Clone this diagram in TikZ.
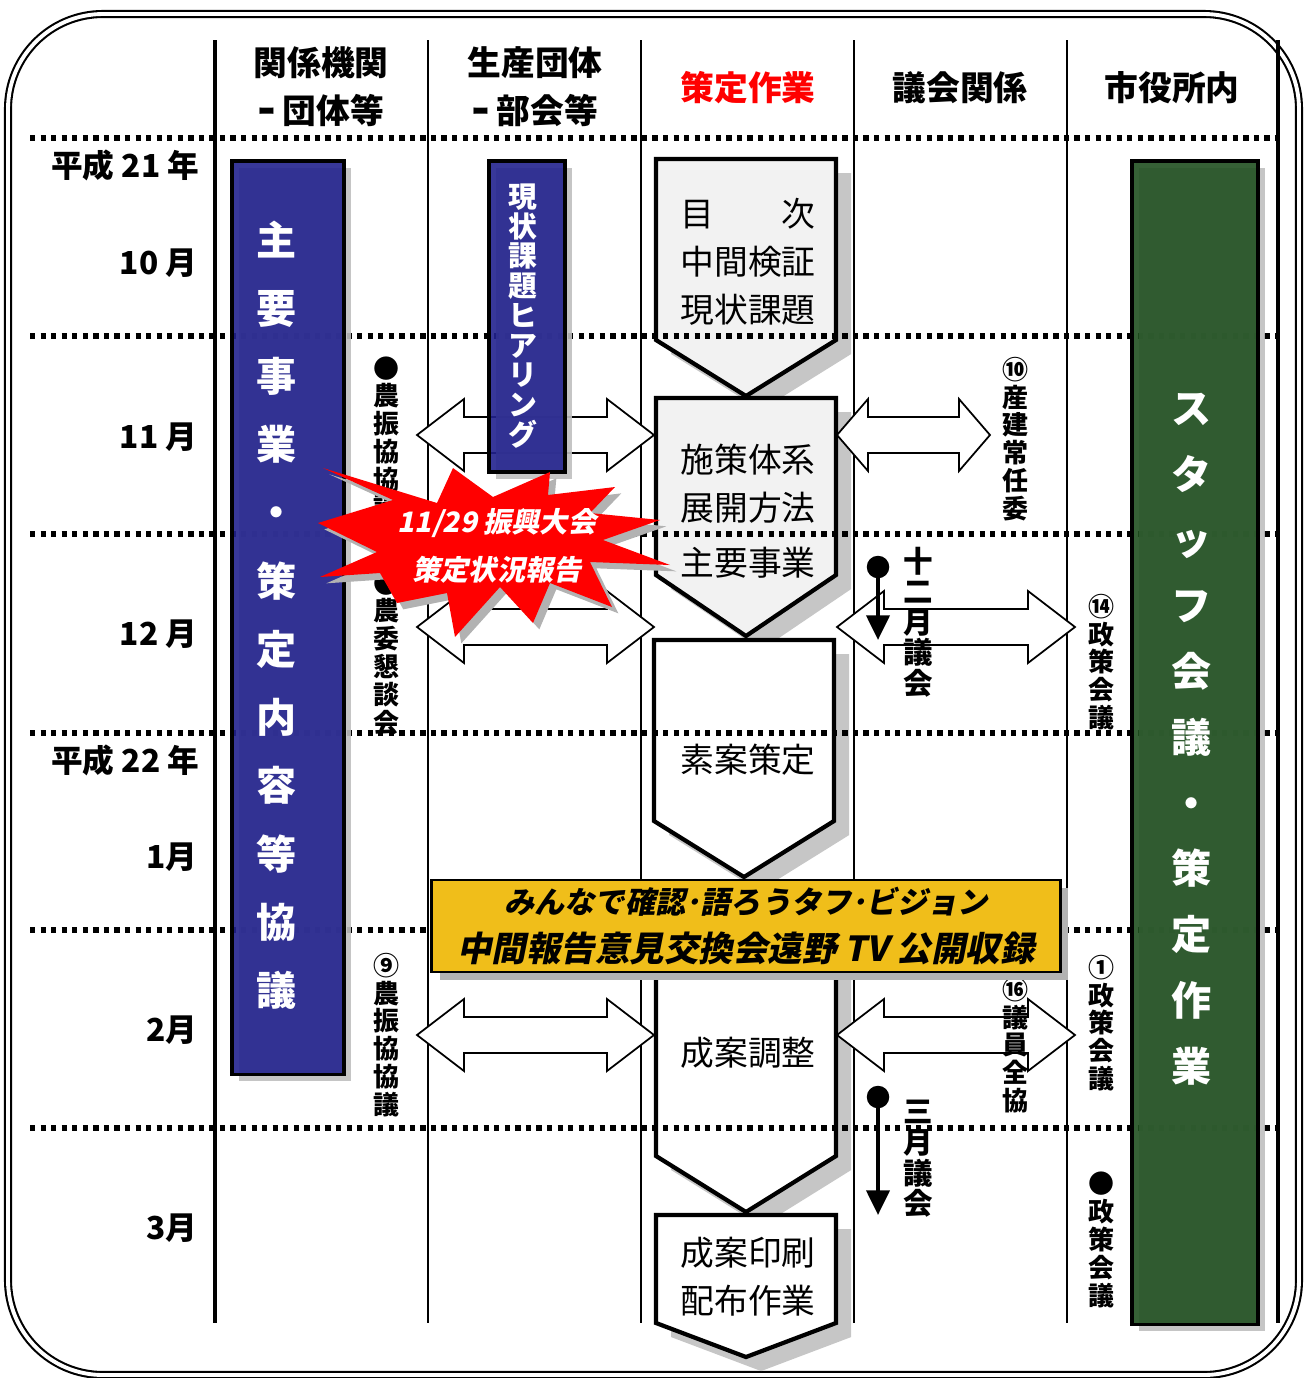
\documentclass[tikz,border=0pt]{standalone}
\usepackage{fontspec}
\usepackage{tikz}
\usetikzlibrary{arrows.meta,shadows}

\newfontfamily\jp{Noto Sans CJK JP}
\newfontfamily\jpsl{Noto Sans CJK JP}[FakeSlant=0.2]

\definecolor{barblue}{RGB}{34,34,142}
\definecolor{bargreen}{RGB}{32,80,32}
\definecolor{bannery}{RGB}{240,190,26}

% block arrow with two heads: left tip, right tip, y, head length
\newcommand{\dblarr}[4]{%
  \draw[blk] (#1,#3) -- ({#1+#4},{#3-36}) -- ({#1+#4},{#3-18}) -- ({#2-#4},{#3-18})
    -- ({#2-#4},{#3-36}) -- (#2,#3) -- ({#2-#4},{#3+36}) -- ({#2-#4},{#3+18})
    -- ({#1+#4},{#3+18}) -- ({#1+#4},{#3+36}) -- cycle;}
% step shape pointing down: left, right, top, side end, tip, fill
\newcommand{\stepshape}[6]{%
  \draw[chev, fill=#6] (#1,#3) -- (#2,#3) -- (#2,#4) -- ({(#1+#2)/2},#5) -- (#1,#4) -- cycle;}

\begin{document}
\begin{tikzpicture}[x=0.01cm,y=-0.01cm,>=latex]
    \tikzstyle{every node}=[inner sep=0pt];
    \tikzstyle{head}=[font=\jp\bfseries\fontsize{9.6}{13.7}\selectfont, align=center];
    \tikzstyle{month}=[font=\jp\bfseries\fontsize{9}{10}\selectfont, anchor=east];
    \tikzstyle{vlab}=[font=\jp\bfseries\fontsize{7.4}{7.9}\selectfont, align=center];
    \tikzstyle{vlabbig}=[font=\jp\bfseries\fontsize{8.4}{8.7}\selectfont, align=center];
    \tikzstyle{steptext}=[font=\jp\fontsize{9.6}{13.7}\selectfont, align=center];
    \tikzstyle{rowline}=[line width=1.7pt, dash pattern=on 1.5pt off 1.5pt];
    \tikzstyle{blk}=[draw, fill=white, line width=0.5pt];
    \tikzstyle{chev}=[line width=1.2pt, line join=miter,
        preaction={fill=gray!45, transform canvas={xshift=4.3pt,yshift=-4pt}}, draw];
    \tikzstyle{bar}=[draw, line width=1pt, fill opacity=.9, text opacity=1, text=white,
        anchor=north west, general shadow={fill=gray!50, shadow xshift=2pt, shadow yshift=-2pt}];
    \tikzstyle{bartext}=[text=white, align=center];
    \tikzstyle{pin}=[line width=1.2pt, -{Triangle[length=7pt,width=6.5pt]}];

    \useasboundingbox (0,0) rectangle (1305,1378);

    % frame
    \draw[double, double distance=1.1pt, line width=0.6pt, rounded corners=27pt] (8,14) rectangle (1299,1375);

    % columns
    \draw[line width=1.2pt] (215,40) -- (215,1323);
    \foreach \x in {428,641,854,1067}
        \draw[line width=0.6pt] (\x,40) -- (\x,1323);
    \draw[line width=1.2pt] (1278,40) -- (1278,1323);

    % headers
    \node[head] (h1) at (321,87) {関係機関\\ｰ 団体等};
    \node[head] (h2) at (535,87) {生産団体\\ｰ 部会等};
    \node[head, text=red] (h3) at (748,88) {策定作業};
    \node[head] (h4) at (960,88) {議会関係};
    \node[head] (h5) at (1172,88) {市役所内};

    % months
    \node[month] (y21) at (200,165) {平成 21 年};
    \node[month] (m10) at (198,263) {10 月};
    \node[month] (m11) at (198,437) {11 月};
    \node[month] (m12) at (198,634) {12 月};
    \node[month] (y22) at (200,760) {平成 22 年};
    \node[month] (m1) at (198,857) {1月};
    \node[month] (m2) at (198,1030) {2月};
    \node[month] (m3) at (198,1228) {3月};

    % work steps
    \stepshape{656}{836}{159}{340}{396}{gray!10}
    \stepshape{656}{836}{398}{575}{636}{gray!10}
    \stepshape{654}{834}{640}{821}{877}{white}
    \stepshape{656}{836}{900}{1156}{1212}{white}
    \stepshape{656}{836}{1215}{1323}{1357}{white}

    \node[steptext] (c1) at (748,262) {目　　次\\中間検証\\現状課題};
    \node[steptext] (c2) at (748,484) {施策体系\\展開方法};
    \node[steptext] (c2b) at (748,563) {主要事業};
    \node[steptext] (c3) at (748,760) {素案策定};
    \node[steptext] (c4) at (748,1053) {成案調整};
    \node[steptext] (c5) at (748,1277) {成案印刷\\配布作業};

    % block arrows
    \dblarr{417}{654}{435}{47}
    \dblarr{417}{654}{627}{47}
    \dblarr{837}{990}{435}{31}
    \dblarr{837}{1075}{627}{47}
    \dblarr{417}{654}{1035}{47}
    \dblarr{837}{1075}{1035}{47}

    % month rows
    \foreach \y in {138,336,534,733,930,1128}
        \draw[rowline] (30,\y) -- (1278,\y);

    % bars
    \node[bar, fill=barblue, minimum width=1.12cm, minimum height=9.13cm] (b1) at (230,159) {};
    \node[bartext, font=\jp\bfseries\fontsize{11.4}{19.4}\selectfont] (b1t) at (277,615)
        {主\\要\\事\\業\\・\\策\\定\\内\\容\\等\\協\\議};
    \node[bar, fill=barblue, minimum width=0.76cm, minimum height=3.11cm] (b2) at (487,159) {};
    \node[bartext, font=\jp\bfseries\fontsize{8.2}{8.46}\selectfont] (b2t) at (523,316)
        {現\\状\\課\\題\\ヒ\\ア\\リ\\ン\\グ};
    \node[bar, fill=bargreen, minimum width=1.26cm, minimum height=11.63cm] (b3) at (1130,159) {};
    \node[bartext, font=\jp\bfseries\fontsize{11.4}{18.7}\selectfont] (b3t) at (1192,739)
        {ス\\タ\\ッ\\フ\\会\\議\\・\\策\\定\\作\\業};

    % meetings
    \node[vlab] (l1) at (387,438) {●\\農\\振\\協\\協\\議};
    \node[vlab] (l2) at (387,653) {●\\農\\委\\懇\\談\\会};
    \node[vlab] (l3) at (387,1035) {⑨\\農\\振\\協\\協\\議};
    \node[vlab] (r1) at (1016,439) {⑩\\産\\建\\常\\任\\委};
    \node[vlab] (r2) at (1102,662) {⑭\\政\\策\\会\\議};
    \node[vlab] (r3) at (1016,1045) {⑯\\議\\員\\全\\協};
    \node[vlab] (r4) at (1102,1023) {①\\政\\策\\会\\議};
    \node[vlab] (r5) at (1102,1240) {●\\政\\策\\会\\議};
    \node[vlabbig] (g1) at (918,622) {十\\二\\月\\議\\会};
    \node[vlabbig] (g2) at (918,1159) {三\\月\\議\\会};

    % sessions
    \coordinate (p1) at (878,567);
    \coordinate (p1e) at (878,640);
    \coordinate (p2) at (878,1097);
    \coordinate (p2e) at (878,1215);
    \fill (p1) circle[radius=3.2pt];
    \fill (p2) circle[radius=3.2pt];
    \draw[pin] (p1) -- (p1e);
    \draw[pin] (p2) -- (p2e);

    % star
    \fill[red, preaction={fill=gray!60, transform canvas={xshift=1.8pt,yshift=-1.8pt}}]
        (323,468) -- (437,503) -- (453,468) -- (493,497) -- (550,472) -- (548,495)
        -- (615,487) -- (590,513) -- (660,520) -- (603,540) -- (670,565) -- (590,562)
        -- (612,607) -- (550,583) -- (533,623) -- (500,587) -- (455,637) -- (447,593)
        -- (397,603) -- (380,573) -- (320,577) -- (377,552) -- (318,523) -- (393,500) -- cycle;
    \node[font=\jpsl\bfseries\fontsize{8}{13.7}\selectfont, text=white, align=center] (st) at (497,546)
        {11/29 振興大会\\策定状況報告};

    % banner
    \node[draw, line width=0.8pt, fill=bannery, minimum width=6.28cm, minimum height=0.92cm,
        general shadow={fill=gray!60, shadow xshift=2.3pt, shadow yshift=-2.3pt},
        font=\jpsl\bfseries\fontsize{9}{13.7}\selectfont, align=center] (bn) at (746,926)
        {{\fontsize{8.6}{13.7}\selectfont みんなで確認･語ろうタフ･ビジョン}\\{\fontsize{9.8}{13.7}\selectfont 中間報告意見交換会遠野 TV 公開収録}};
\end{tikzpicture}
\end{document}
